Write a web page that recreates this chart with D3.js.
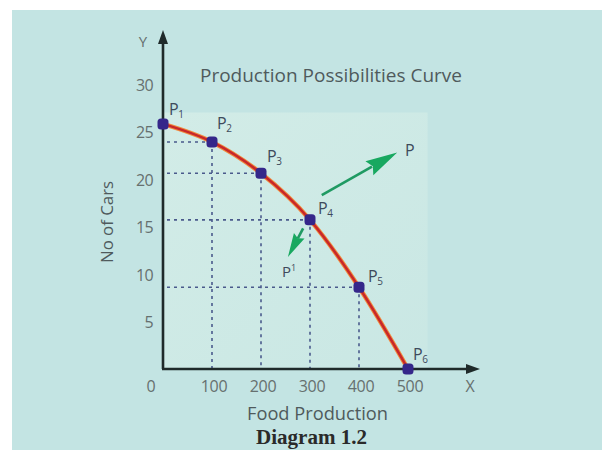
<!DOCTYPE html>
<html><head><meta charset="utf-8">
<script src="https://cdn.jsdelivr.net/npm/d3@7"></script>
<style>
html,body{margin:0;padding:0;background:#fff;}
svg{display:block;}
</style></head>
<body>
<script>
// ---- data ----
const food = [0, 100, 200, 300, 400, 500];
const cars = [25.8, 23.9, 20.6, 15.7, 8.6, 0];
const pointLabels = ["1", "2", "3", "4", "5", "6"];
const xTicks = [100, 200, 300, 400, 500];
const yTicks = [5, 10, 15, 20, 25, 30];
const arrowOut = [[324, 18.3], [478, 22.8]];
const arrowIn = [[286, 14.8], [255, 11.8]];
const labelP = [494, 23.0];
const labelP1 = [243, 10.2];

const W = 613, H = 458;
const svg = d3.select("body").append("svg").attr("width", W).attr("height", H);

const x = d3.scaleLinear().domain([0, 500]).range([163, 408]);
const y = d3.scaleLinear().domain([0, 30]).range([369, 84]);

// background
svg.append("rect").attr("x", 12).attr("y", 10).attr("width", 590).attr("height", 440).attr("fill", "#c3e4e3");
const grad = svg.append("defs").append("linearGradient").attr("id", "pg").attr("x1", 0).attr("y1", 0).attr("x2", 1).attr("y2", 1);
grad.append("stop").attr("offset", "0%").attr("stop-color", "#d6eee8");
grad.append("stop").attr("offset", "100%").attr("stop-color", "#cbe8e4");
svg.append("rect").attr("x", x(0)).attr("y", y(27)).attr("width", x(540) - x(0)).attr("height", y(0) - y(27)).attr("fill", "url(#pg)").attr("opacity", 0.8);

const font = "'Open Sans', 'Noto Sans', sans-serif";
const pts = food.map((f, i) => ({ f, c: cars[i], l: pointLabels[i] }));

// dashed guide lines
const g = svg.append("g").attr("stroke", "#4a5a8c").attr("stroke-width", 1.6).attr("stroke-dasharray", "3,4").attr("fill", "none");
pts.filter(p => p.f > 0 && p.c > 0).forEach(p => {
  g.append("line").attr("x1", x(p.f)).attr("y1", y(p.c)).attr("x2", x(p.f)).attr("y2", y(0));
  g.append("line").attr("x1", x(p.f)).attr("y1", y(p.c)).attr("x2", x(0)).attr("y2", y(p.c));
});

// axes
const axisColor = "#1f2a2a";
svg.append("line").attr("x1", x(0)).attr("y1", y(0)).attr("x2", x(0)).attr("y2", 40).attr("stroke", axisColor).attr("stroke-width", 2.6);
svg.append("path").attr("d", `M${x(0)},30 L${x(0) - 5},44 L${x(0) + 5},44 Z`).attr("fill", axisColor);
svg.append("line").attr("x1", x(0) - 1).attr("y1", y(0)).attr("x2", 470).attr("y2", y(0)).attr("stroke", axisColor).attr("stroke-width", 2.6);
svg.append("path").attr("d", `M480,${y(0)} L466,${y(0) - 5} L466,${y(0) + 5} Z`).attr("fill", axisColor);

// tick labels
const tickColor = "#66706f";
const tfs = 16;
svg.append("g").selectAll("text").data(yTicks).join("text")
  .attr("x", 153).attr("y", d => y(d) + 1).attr("dy", "0.35em").attr("text-anchor", "end")
  .attr("font-family", font).attr("font-size", tfs).attr("fill", tickColor).attr("letter-spacing", -0.6).text(d => d);
svg.append("g").selectAll("text").data(xTicks).join("text")
  .attr("x", d => x(d) + 2).attr("y", 386).attr("dy", "0.35em").attr("text-anchor", "middle")
  .attr("font-family", font).attr("font-size", tfs).attr("fill", tickColor).attr("letter-spacing", -0.3).text(d => d);
svg.append("text").attr("x", 151).attr("y", 386).attr("dy", "0.35em").attr("text-anchor", "middle")
  .attr("font-family", font).attr("font-size", tfs).attr("fill", tickColor).text("0");
svg.append("text").attr("x", 470).attr("y", 386).attr("dy", "0.35em").attr("text-anchor", "middle")
  .attr("font-family", font).attr("font-size", tfs).attr("fill", tickColor).text("X");
svg.append("text").attr("x", 143).attr("y", 42).attr("dy", "0.35em").attr("text-anchor", "middle")
  .attr("font-family", font).attr("font-size", 15).attr("fill", tickColor).text("Y");

// titles
svg.append("text").attr("x", 200).attr("y", 75).attr("dy", "0.35em")
  .attr("font-family", font).attr("font-size", 19).attr("fill", "#4f5a5c")
  .attr("textLength", 262).attr("lengthAdjust", "spacingAndGlyphs")
  .text("Production Possibilities Curve");
svg.append("text").attr("transform", "translate(107,222) rotate(-90)").attr("dy", "0.35em").attr("text-anchor", "middle")
  .attr("font-family", font).attr("font-size", 16).attr("fill", "#4f5a5c")
  .attr("textLength", 82).attr("lengthAdjust", "spacingAndGlyphs")
  .text("No of Cars");
svg.append("text").attr("x", 247).attr("y", 414).attr("dy", "0.35em")
  .attr("font-family", font).attr("font-size", 18).attr("fill", "#4f5a5c")
  .attr("textLength", 141).attr("lengthAdjust", "spacingAndGlyphs")
  .text("Food Production");
svg.append("text").attr("x", 256).attr("y", 437).attr("dy", "0.35em")
  .attr("font-family", "'Liberation Serif', 'DejaVu Serif', serif").attr("font-size", 20).attr("font-weight", "bold").attr("fill", "#2a2a2a")
  .attr("textLength", 111).attr("lengthAdjust", "spacingAndGlyphs")
  .text("Diagram 1.2");

// curve
const line = d3.line().x(d => x(d.f)).y(d => y(d.c)).curve(d3.curveMonotoneX);
svg.append("path").datum(pts).attr("d", line).attr("fill", "none").attr("stroke", "#f08a3c").attr("stroke-width", 4.5);
svg.append("path").datum(pts).attr("d", line).attr("fill", "none").attr("stroke", "#c8282a").attr("stroke-width", 2.5);

// points
svg.append("g").selectAll("rect").data(pts).join("rect")
  .attr("x", d => x(d.f) - 5.5).attr("y", d => y(d.c) - 5.5).attr("width", 11).attr("height", 11).attr("rx", 3.5)
  .attr("fill", "#35278a");

// point labels
const lblOff = [[6, -9], [5, -13], [6, -11], [8, -6], [9, -5], [5, -9]];
pts.forEach((p, i) => {
  const t = svg.append("text").attr("x", x(p.f) + lblOff[i][0]).attr("y", y(p.c) + lblOff[i][1])
    .attr("font-family", font).attr("font-size", 16).attr("fill", "#3e4a5c").attr("letter-spacing", -0.5);
  t.append("tspan").text("P");
  t.append("tspan").attr("font-size", 10).attr("dy", 3).text(p.l);
});

// green arrows
function arrow(seg, headLen, headW, notch) {
  const [a, b] = seg.map(d => [x(d[0]), y(d[1])]);
  const dx = b[0] - a[0], dy = b[1] - a[1];
  const len = Math.hypot(dx, dy), ux = dx / len, uy = dy / len, nx = -uy, ny = ux;
  const base = [b[0] - ux * headLen, b[1] - uy * headLen];
  svg.append("line").attr("x1", a[0]).attr("y1", a[1]).attr("x2", base[0] + ux * 3).attr("y2", base[1] + uy * 3)
    .attr("stroke", "#1f9a62").attr("stroke-width", 2.6);
  const nb = [b[0] - ux * (headLen - notch), b[1] - uy * (headLen - notch)];
  svg.append("path").attr("d",
    `M${b[0]},${b[1]} L${base[0] + nx * headW},${base[1] + ny * headW} L${nb[0]},${nb[1]} L${base[0] - nx * headW},${base[1] - ny * headW} Z`)
    .attr("fill", "#18a860");
}
arrow(arrowOut, 32, 8, 4);
arrow(arrowIn, 24, 6, 3);

svg.append("text").attr("x", x(labelP[0])).attr("y", y(labelP[1])).attr("dy", "0.35em")
  .attr("font-family", font).attr("font-size", 16).attr("fill", "#3e4a5c").text("P");
const tp1 = svg.append("text").attr("x", x(labelP1[0])).attr("y", y(labelP1[1])).attr("dy", "0.35em")
  .attr("font-family", font).attr("font-size", 15).attr("fill", "#3e4a5c");
tp1.append("tspan").text("P");
tp1.append("tspan").attr("font-size", 9).attr("dy", -6).text("1");
</script>
</body></html>
